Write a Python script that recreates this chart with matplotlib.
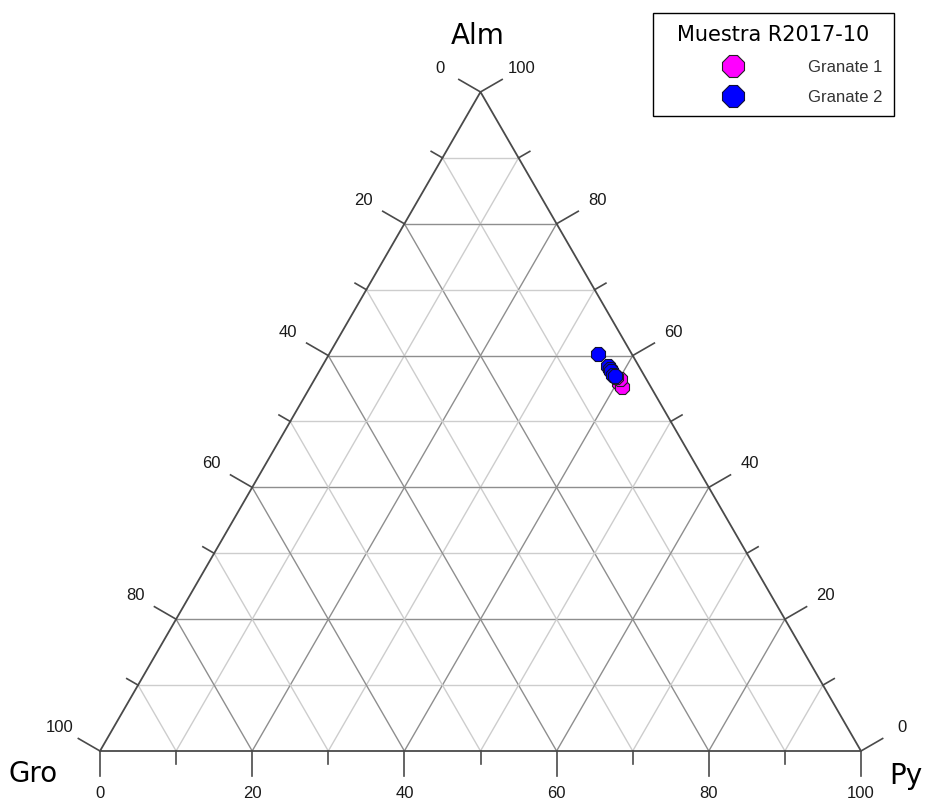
import numpy as np
import matplotlib
matplotlib.use("Agg")
import matplotlib.pyplot as plt
from matplotlib.font_manager import FontProperties

# composiciones (%) de granates, muestra R2017-10
g1_alm = [55.9, 55.3, 56.4, 56.7]
g1_py = [40.2, 40.9, 40.1, 39.5]
g1_gro = [3.9, 3.8, 3.5, 3.8]

g2_alm = [60.3, 58.4, 58.0, 57.6, 57.1, 56.9]
g2_py = [35.3, 37.6, 38.0, 38.4, 38.9, 39.2]
g2_gro = [4.4, 4.0, 4.0, 4.0, 4.0, 3.9]

ticks = np.arange(0, 101, 10)

SQ = np.sqrt(3) / 2
PX = 761.0  # pixels per unit side


def tern(alm, py):
    alm = np.asarray(alm) / 100.0
    py = np.asarray(py) / 100.0
    return py + alm / 2, alm * SQ


fig = plt.figure(figsize=(9.37, 7.98), dpi=100)
ax = fig.add_axes([0, 0, 1, 1])
ax.set_xlim(-100 / PX, 837 / PX)
ax.set_ylim((751 - 798) / PX, 751 / PX)
ax.axis("off")

# grid
for t in ticks[1:-1]:
    f = t / 100.0
    col = "#8e8e8e" if t % 20 == 0 else "#cdcdcd"
    # Alm constante
    ax.plot([f / 2, 1 - f / 2], [f * SQ, f * SQ], color=col, lw=1.0, zorder=1)
    # Py constante
    ax.plot([f, f + (1 - f) / 2], [0, (1 - f) * SQ], color=col, lw=1.0, zorder=1)
    # Gro constante
    ax.plot([1 - f, (1 - f) / 2], [0, (1 - f) * SQ], color=col, lw=1.0, zorder=1)

# triangle
ax.plot([0, 1, 0.5, 0], [0, 0, SQ, 0], color="#4a4a4a", lw=1.3, zorder=2)

# ticks and labels
tick_font = dict(family="Liberation Sans", size=12, color="#1a1a1a")
dirs = {
    "bottom": np.array([0.0, -1.0]),
    "left": np.array([-SQ, 0.5]),
    "right": np.array([SQ, 0.5]),
}
for t in ticks:
    f = t / 100.0
    L = (25 if t % 20 == 0 else 13) / PX
    # Py en la base
    p = np.array([f, 0.0])
    d = dirs["bottom"]
    ax.plot([p[0], p[0] + d[0] * L], [p[1], p[1] + d[1] * L], color="#4a4a4a", lw=1.2,
            clip_on=False)
    if t % 20 == 0:
        ax.text(p[0], p[1] - 35 / PX, str(t), ha="center", va="top", **tick_font)
    # Gro a la izquierda
    p = np.array([(1 - f) / 2, (1 - f) * SQ])
    d = dirs["left"]
    ax.plot([p[0], p[0] + d[0] * L], [p[1], p[1] + d[1] * L], color="#4a4a4a", lw=1.2,
            clip_on=False)
    if t % 20 == 0:
        q = p + d * 47 / PX
        ax.text(q[0], q[1], str(t), ha="center", va="center", **tick_font)
    # Alm a la derecha
    p = np.array([1 - f / 2, f * SQ])
    d = dirs["right"]
    ax.plot([p[0], p[0] + d[0] * L], [p[1], p[1] + d[1] * L], color="#4a4a4a", lw=1.2,
            clip_on=False)
    if t % 20 == 0:
        q = p + d * 47 / PX
        ax.text(q[0], q[1], str(t), ha="center", va="center", **tick_font)

# vertex names
name_font = dict(family="DejaVu Sans", size=20, color="black")
ax.text((478 - 100) / PX, (751 - 36) / PX, "Alm", ha="center", va="center", **name_font)
ax.text((33 - 100) / PX, (751 - 774) / PX, "Gro", ha="center", va="center", **name_font)
ax.text((906 - 100) / PX, (751 - 776) / PX, "Py", ha="center", va="center", **name_font)

# data
x1, y1 = tern(g1_alm, g1_py)
x2, y2 = tern(g2_alm, g2_py)
h1, = ax.plot(x1, y1, ls="none", marker="8", ms=10.5, mfc="#ff00ff", mec="#222222",
              mew=0.8, zorder=4, label="Granate 1")
h2, = ax.plot(x2, y2, ls="none", marker="8", ms=10.5, mfc="#0000ff", mec="#111133",
              mew=0.8, zorder=5, label="Granate 2")

leg = ax.legend(handles=[h1, h2], loc="upper left",
                bbox_to_anchor=(653 / 937, 1 - 13 / 798), borderaxespad=0,
                title="Muestra R2017-10",
                title_fontproperties=FontProperties(family="DejaVu Sans", size=15),
                prop=FontProperties(family="Liberation Sans", size=12),
                markerscale=1.6, handlelength=8.2, handletextpad=0.4,
                labelspacing=0.9, borderpad=0.7, fancybox=False,
                framealpha=1, edgecolor="black")
leg.get_frame().set_linewidth(1.0)
for txt in leg.get_texts():
    txt.set_color("#333333")

fig.savefig("out.png", dpi=100)
